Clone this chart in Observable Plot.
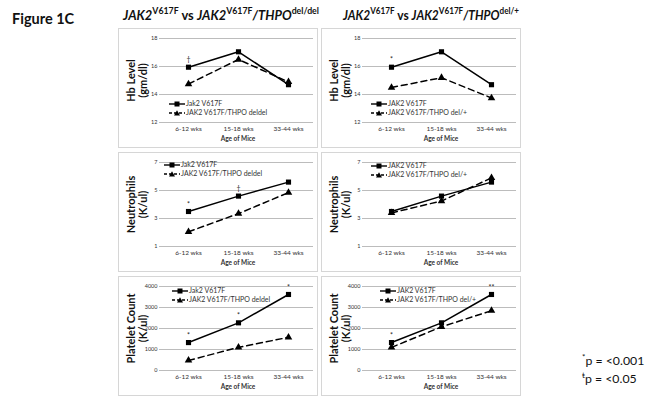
<!DOCTYPE html>
<html><head><meta charset="utf-8">
<script src="https://cdn.jsdelivr.net/npm/d3@7"></script>
<script src="https://cdn.jsdelivr.net/npm/@observablehq/plot@0.6"></script>
<style>
body{margin:0;background:#fff;font-family:Lato,"Open Sans",sans-serif}
#root{position:relative;width:646px;height:396px;overflow:hidden;background:#fff}
.panel{position:absolute;width:198px;height:118px;border:1px solid #d6d6d6;background:#fff}
.panel svg{position:absolute;left:0;top:0}
.title{position:absolute;top:6px;font-weight:bold;font-size:14px;white-space:nowrap;color:#111;transform-origin:0 50%}
.title sup{font-size:9.5px;font-style:normal;vertical-align:6px;line-height:0}
.fig{position:absolute;left:12px;top:10px;font-weight:bold;font-size:14.5px;color:#111}
.legend{position:absolute;font-size:7px;color:#333;line-height:9px;white-space:nowrap}
.legend svg{position:static;vertical-align:middle;margin-right:1px}
.foot{position:absolute;left:582px;top:352px;font-size:12.3px;line-height:18px;color:#111;white-space:nowrap}
.foot sup{font-size:8px;line-height:0}
</style></head>
<body><div id="root">
<div class="fig">Figure 1C</div>
<div class="title" id="t1" data-x="123" data-w="196"><i>JAK2</i><sup>V617F</sup> vs <i>JAK2</i><sup>V617F</sup><i>/THPO</i><sup>del/del</sup></div>
<div class="title" id="t2" data-x="343" data-w="176"><i>JAK2</i><sup>V617F</sup> vs <i>JAK2</i><sup>V617F</sup><i>/THPO</i><sup>del/+</sup></div>
<div class="foot"><div><sup>*</sup>p = &lt;0.001</div><div><sup>ŧ</sup>p = &lt;0.05</div></div>
</div>
<script>
const ages = ["6-12 wks", "15-18 wks", "33-44 wks"];
const hbJak2 = [15.95, 17.05, 14.7];
const hbDelDel = [14.75, 16.5, 14.9];
const hbDelPlus = [14.5, 15.2, 13.75];
const neutJak2 = [3.5, 4.6, 5.6];
const neutDelDel = [2.05, 3.35, 4.85];
const neutDelPlus = [3.4, 4.25, 5.9];
const pltJak2 = [1330, 2270, 3620];
const pltDelDel = [480, 1100, 1580];
const pltDelPlus = [1100, 2080, 2850];
const hbTicks = [12, 14, 16, 18];
const neutTicks = [1, 3, 5, 7];
const pltTicks = [0, 1000, 2000, 3000, 4000];
const annHbDelDel = ["†", "", ""];
const annHbDelPlus = ["*", "", ""];
const annNeutDelDel = ["*", "†", ""];
const annNeutDelPlus = ["", "", ""];
const annPltDelDel = ["*", "*", "*"];
const annPltDelPlus = ["*", "", "**"];
const legDelDel = ["Jak2 V617F", "JAK2 V617F/THPO deldel"];
const legDelPlus = ["JAK2 V617F", "JAK2 V617F/THPO del/+"];
const yLabels = ["Hb Level\n(gm/dl)", "Neutrophils\n(K/ul)", "Platelet Count\n(K/ul)"];

const root = document.getElementById("root");
const FONT = "Lato, 'Open Sans', sans-serif";

for (const id of ["t1", "t2"]) {
  const el = document.getElementById(id);
  el.style.left = el.dataset.x + "px";
  const w = el.getBoundingClientRect().width;
  el.style.transform = `scaleX(${(+el.dataset.w / w).toFixed(3)})`;
}

function panel(left, top, label, ticks, a, b, ann, leg, legLeft, legTop) {
  const div = document.createElement("div");
  div.className = "panel";
  div.style.left = left + "px";
  div.style.top = top + "px";
  const A = ages.map((age, i) => ({age, v: a[i], t: ann[i]}));
  const B = ages.map((age, i) => ({age, v: b[i]}));
  const plot = Plot.plot({
    width: 198, height: 118,
    marginLeft: 43, marginRight: 4, marginTop: 9, marginBottom: 25,
    style: {fontFamily: FONT, color: "#333", background: "transparent"},
    x: {type: "point", domain: ages, padding: 0.5, label: null},
    y: {domain: [ticks[0], ticks[ticks.length - 1]], label: null},
    marks: [
      Plot.gridY(ticks, {stroke: "#bcbcbc", strokeOpacity: 1}),
      Plot.axisY(ticks, {tickSize: 3, tickPadding: 2, fontSize: 5.5, stroke: "#bcbcbc", label: null, tickFormat: d3.format("d")}),
      Plot.axisX({tickSize: 0, tickPadding: 4, fontSize: 6.5, label: null}),
      Plot.text(["Age of Mice"], {text: d => d, frameAnchor: "bottom", dy: 18, fontSize: 6.5, fontWeight: "bold", fill: "#333"}),
      Plot.text([label], {text: d => d, frameAnchor: "left", textAnchor: "middle", rotate: -90, dx: -25, fontSize: 11, fontWeight: "bold", fill: "#111", lineHeight: 1.05}),
      Plot.lineY(B, {x: "age", y: "v", stroke: "#000", strokeWidth: 1.5, strokeDasharray: "6,4"}),
      Plot.lineY(A, {x: "age", y: "v", stroke: "#000", strokeWidth: 1.5}),
      Plot.dot(B, {x: "age", y: "v", symbol: "triangle", r: 2.8, fill: "#000", stroke: "none"}),
      Plot.dot(A, {x: "age", y: "v", symbol: "square", r: 2.9, fill: "#000", stroke: "none"}),
      Plot.text(A, {x: "age", y: "v", text: "t", dy: -7, fontSize: 7, fill: "#222"})
    ]
  });
  div.appendChild(plot);
  const lg = document.createElement("div");
  lg.className = "legend";
  lg.style.left = legLeft + "px";
  lg.style.top = legTop + "px";
  const sw = (dash, sym) => `<svg width="16" height="6" viewBox="0 0 16 6"><line x1="0" y1="3" x2="16" y2="3" stroke="#000" stroke-width="1.4" ${dash ? 'stroke-dasharray="3,2"' : ''}/>${sym === "s" ? '<rect x="5.5" y="0.5" width="5" height="5" fill="#000"/>' : '<path d="M8 0.3 L11 5.5 L5 5.5Z" fill="#000"/>'}</svg>`;
  lg.innerHTML = `<div>${sw(false, "s")}${leg[0]}</div><div>${sw(true, "t")}${leg[1]}</div>`;
  div.appendChild(lg);
  root.appendChild(div);
}

panel(118, 28, yLabels[0], hbTicks, hbJak2, hbDelDel, annHbDelDel, legDelDel, 50, 70);
panel(321, 28, yLabels[0], hbTicks, hbJak2, hbDelPlus, annHbDelPlus, legDelPlus, 49, 70);
panel(118, 152, yLabels[1], neutTicks, neutJak2, neutDelDel, annNeutDelDel, legDelDel, 45, 7);
panel(321, 152, yLabels[1], neutTicks, neutJak2, neutDelPlus, annNeutDelPlus, legDelPlus, 49, 8);
panel(118, 276, yLabels[2], pltTicks, pltJak2, pltDelDel, annPltDelDel, legDelDel, 53, 9);
panel(321, 276, yLabels[2], pltTicks, pltJak2, pltDelPlus, annPltDelPlus, legDelPlus, 58, 9);
</script>
</body></html>
